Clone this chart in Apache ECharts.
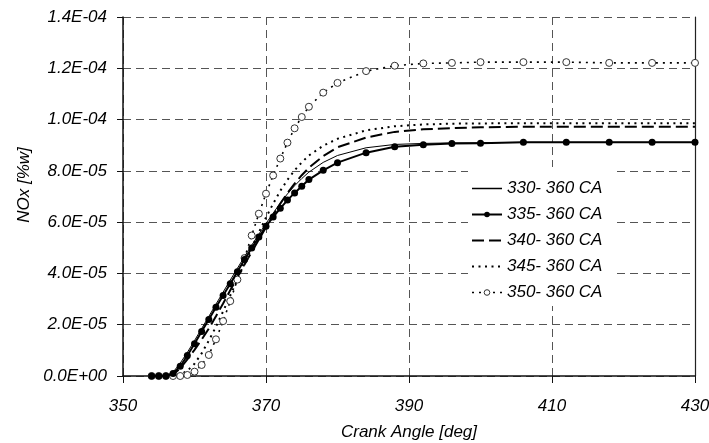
<!DOCTYPE html>
<html>
<head>
<meta charset="utf-8">
<script src="https://cdn.jsdelivr.net/npm/echarts@6/dist/echarts.min.js"></script>
<style>
  html, body { margin: 0; padding: 0; background: #ffffff; }
  #chart { width: 709px; height: 443px; }
</style>
</head>
<body>
<div id="chart"></div>
<script>
// Crank angle samples [deg]
const crankAngle = [354, 355, 356, 357, 358, 359, 360, 361, 362, 363, 364, 365, 366, 367, 368,
  369, 370, 371, 372, 373, 374, 375, 376, 378, 380, 384, 388, 392, 396, 400, 406, 412, 418, 424, 430];

// NOx mass fraction [%w] for each injection window
const nox330 = [0, 0, 0, 0.15e-5, 0.5e-5, 0.92e-5, 1.38e-5, 1.85e-5, 2.32e-5, 2.8e-5, 3.27e-5, 3.74e-5, 4.2e-5, 4.66e-5, 5.1e-5,
  5.53e-5, 5.95e-5, 6.35e-5, 6.75e-5, 7.1e-5, 7.42e-5, 7.7e-5, 7.95e-5, 8.33e-5, 8.6e-5, 8.9e-5, 9.03e-5, 9.07e-5, 9.09e-5, 9.1e-5, 9.11e-5, 9.11e-5, 9.11e-5, 9.11e-5, 9.11e-5];
const nox335 = [0, 0, 0, 0.1e-5, 0.38e-5, 0.8e-5, 1.26e-5, 1.74e-5, 2.2e-5, 2.68e-5, 3.14e-5, 3.6e-5, 4.07e-5, 4.54e-5, 4.99e-5,
  5.42e-5, 5.84e-5, 6.2e-5, 6.54e-5, 6.86e-5, 7.14e-5, 7.4e-5, 7.66e-5, 8.02e-5, 8.32e-5, 8.71e-5, 8.94e-5, 9.02e-5, 9.07e-5, 9.08e-5, 9.12e-5, 9.12e-5, 9.12e-5, 9.12e-5, 9.12e-5];
const nox340 = [0, 0, 0, 0.05e-5, 0.3e-5, 0.65e-5, 1.02e-5, 1.42e-5, 1.85e-5, 2.33e-5, 2.83e-5, 3.34e-5, 3.85e-5, 4.35e-5, 4.84e-5,
  5.32e-5, 5.8e-5, 6.27e-5, 6.72e-5, 7.13e-5, 7.5e-5, 7.83e-5, 8.12e-5, 8.58e-5, 8.92e-5, 9.3e-5, 9.52e-5, 9.62e-5, 9.67e-5, 9.7e-5, 9.72e-5, 9.72e-5, 9.72e-5, 9.72e-5, 9.72e-5];
const nox345 = [0, 0, 0, 0, 0.05e-5, 0.2e-5, 0.48e-5, 0.88e-5, 1.38e-5, 1.92e-5, 2.52e-5, 3.14e-5, 3.76e-5, 4.38e-5, 5.0e-5,
  5.6e-5, 6.18e-5, 6.72e-5, 7.22e-5, 7.65e-5, 8.02e-5, 8.33e-5, 8.6e-5, 8.98e-5, 9.25e-5, 9.58e-5, 9.74e-5, 9.81e-5, 9.84e-5, 9.85e-5, 9.86e-5, 9.86e-5, 9.86e-5, 9.86e-5, 9.86e-5];
const nox350 = [0, 0, 0, 0, 0, 0.04e-5, 0.17e-5, 0.43e-5, 0.82e-5, 1.43e-5, 2.14e-5, 2.92e-5, 3.76e-5, 4.6e-5, 5.48e-5,
  6.33e-5, 7.11e-5, 7.82e-5, 8.48e-5, 9.1e-5, 9.66e-5, 10.1e-5, 10.5e-5, 11.05e-5, 11.43e-5, 11.89e-5, 12.1e-5, 12.19e-5, 12.21e-5, 12.24e-5, 12.24e-5, 12.24e-5, 12.21e-5, 12.21e-5, 12.21e-5];

const seriesNames = ['330- 360 CA', '335- 360 CA', '340- 360 CA', '345- 360 CA', '350- 360 CA'];

// Axis ranges and titles
const xMin = 350, xMax = 430, xStep = 20;
const yMin = 0, yMax = 1.4e-4, yStep = 2e-5;
const xTitle = 'Crank Angle [deg]';
const yTitle = 'NOx [%w]';

const FONT = '"Liberation Sans", Arial, Helvetica, sans-serif';

function sciLabel(v) {
  const parts = Number(v).toExponential(1).split('e');
  const exp = parseInt(parts[1], 10);
  return parts[0] + 'E' + (exp < 0 ? '-' : '+') + String(Math.abs(exp)).padStart(2, '0');
}

function pairs(ys) {
  return crankAngle.map((x, i) => [x, ys[i]]);
}

// Line looks shared by the plot and its legend
const styles = [
  { line: { color: '#000', width: 1, type: 'solid' }, symbol: 'none' },
  { line: { color: '#000', width: 2, type: 'solid' }, symbol: 'circle', item: { color: '#000', borderWidth: 0 } },
  { line: { color: '#000', width: 2, type: [12, 5] }, symbol: 'none' },
  { line: { color: '#000', width: 2, type: [2, 4.5] }, symbol: 'none' },
  { line: { color: '#000', width: 1.6, type: [2, 5] }, symbol: 'circle', item: { color: '#ffffff', borderColor: '#333', borderWidth: 1 } }
];
const seriesData = [nox330, nox335, nox340, nox345, nox350];

const chart = echarts.init(document.getElementById('chart'), null, { renderer: 'canvas' });

const gridDash = { color: '#555555', width: 1, type: [8, 5] };

chart.setOption({
  animation: false,
  backgroundColor: '#ffffff',
  textStyle: { fontFamily: FONT, fontStyle: 'italic', color: '#000' },
  grid: { left: 123, right: 14, top: 17, bottom: 67, containLabel: false, outerBoundsMode: 'none' },
  xAxis: {
    type: 'value', min: xMin, max: xMax, interval: xStep,
    name: xTitle, nameLocation: 'middle', nameGap: 48,
    nameTextStyle: { fontFamily: FONT, fontStyle: 'italic', fontSize: 17, color: '#000' },
    axisLine: { show: true, onZero: false, lineStyle: { color: '#111', width: 1.5 } },
    axisTick: { show: true, inside: false, length: 7, lineStyle: { color: '#111', width: 1 } },
    axisLabel: { margin: 22, fontFamily: FONT, fontStyle: 'italic', fontSize: 17, color: '#000' },
    splitLine: { show: true, lineStyle: gridDash }
  },
  yAxis: [{
    type: 'value', min: yMin, max: yMax, interval: yStep,
    axisLine: { show: true, lineStyle: { color: '#111', width: 1.5 } },
    axisTick: { show: true, inside: false, length: 6, lineStyle: { color: '#111', width: 1 } },
    axisLabel: { margin: 16, formatter: sciLabel, fontFamily: FONT, fontStyle: 'italic', fontSize: 17, color: '#000' },
    splitLine: { show: true, lineStyle: gridDash }
  }, {
    type: 'value', min: yMin, max: yMax, interval: yStep, position: 'right',
    axisLine: { show: true, lineStyle: { color: '#222', width: 1.2 } },
    axisTick: { show: false }, axisLabel: { show: false }, splitLine: { show: false }
  }],
  legend: {
    orient: 'vertical',
    left: 468, top: 167,
    padding: [13, 10, 5, 3],
    backgroundColor: '#ffffff',
    itemWidth: 30, itemHeight: 7, itemGap: 9,
    textStyle: { fontFamily: FONT, fontStyle: 'italic', fontSize: 17, color: '#000', lineHeight: 17 },
    data: seriesNames.map((name, i) => ({
      name: name,
      lineStyle: {
        color: '#000',
        width: Math.max(styles[i].line.width, 1.5),
        type: styles[i].line.type
      },
      itemStyle: styles[i].symbol === 'none' ? { opacity: 0 } : styles[i].item
    }))
  },
  graphic: [{
    type: 'text', x: 24, y: 185, rotation: Math.PI / 2,
    style: { text: yTitle, textAlign: 'center', textVerticalAlign: 'middle',
      font: 'italic 17px ' + FONT, fill: '#000' }
  }],
  series: seriesNames.map((name, i) => ({
    name: name, type: 'line', data: pairs(seriesData[i]),
    symbol: styles[i].symbol, symbolSize: 7,
    lineStyle: styles[i].line,
    itemStyle: styles[i].item || { color: '#000' },
    z: i === 0 ? 5 : (i === 1 ? 4 : 3)
  }))
});
</script>
</body>
</html>
